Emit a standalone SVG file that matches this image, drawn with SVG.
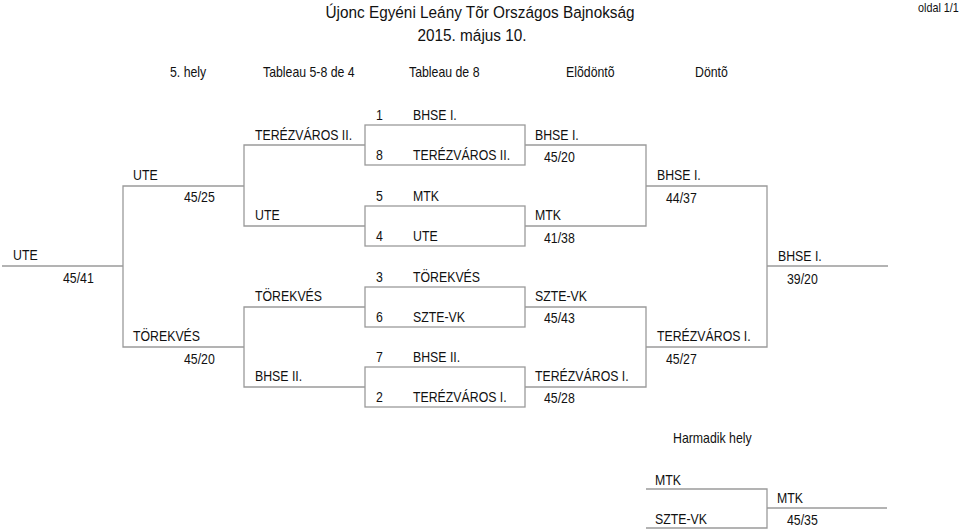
<svg xmlns="http://www.w3.org/2000/svg" width="960" height="530" viewBox="0 0 960 530">
<style>
text{font-family:"Liberation Sans",Arial,sans-serif;font-size:14px;fill:#111}
.t{font-size:16.5px}
.s{font-size:12px}
.c{text-anchor:middle}
#connectors line,#connectors rect,#connectors path{stroke:#9a9a9a;stroke-width:1.3;fill:none}
</style>
<rect width="960" height="530" fill="#fff"/>
<g id="header">
<text class="t c" transform="translate(480 18) scale(0.93 1)">Újonc Egyéni Leány Tõr Országos Bajnokság</text>
<text class="t c" transform="translate(472 41) scale(0.93 1)">2015. május 10.</text>
<text class="s" transform="translate(918 12) scale(0.9 1)">oldal 1/1</text>
<text transform="translate(170 77) scale(0.88 1)">5. hely</text>
<text transform="translate(263 77) scale(0.88 1)">Tableau 5-8 de 4</text>
<text transform="translate(409 77) scale(0.88 1)">Tableau de 8</text>
<text transform="translate(566 77) scale(0.88 1)">Elõdöntõ</text>
<text transform="translate(695 77) scale(0.88 1)">Döntõ</text>
</g>
<g id="connectors">
<rect x="365" y="125" width="160" height="40"/>
<rect x="365" y="206" width="160" height="40"/>
<rect x="365" y="287" width="160" height="40"/>
<rect x="365" y="367" width="160" height="40"/>
<path d="M525 145H646V226H525"/>
<path d="M525 307H646V387H525"/>
<path d="M646 186H767V347H646"/>
<path d="M767 266H888"/>
<path d="M365 145H244V226H365"/>
<path d="M365 307H244V387H365"/>
<path d="M244 186H123V347H244"/>
<path d="M123 266H2"/>
<path d="M646 489H767V528H646"/>
<path d="M767 508H887"/>
</g>
<g id="seed1"><text transform="translate(376 120) scale(0.88 1)">1</text><text transform="translate(413 120) scale(0.88 1)">BHSE I.</text></g>
<g id="seed8"><text transform="translate(376 160) scale(0.88 1)">8</text><text transform="translate(413 160) scale(0.88 1)">TERÉZVÁROS II.</text></g>
<g id="seed5"><text transform="translate(376 201) scale(0.88 1)">5</text><text transform="translate(413 201) scale(0.88 1)">MTK</text></g>
<g id="seed4"><text transform="translate(376 241) scale(0.88 1)">4</text><text transform="translate(413 241) scale(0.88 1)">UTE</text></g>
<g id="seed3"><text transform="translate(376 282) scale(0.88 1)">3</text><text transform="translate(413 282) scale(0.88 1)">TÖREKVÉS</text></g>
<g id="seed6"><text transform="translate(376 322) scale(0.88 1)">6</text><text transform="translate(413 322) scale(0.88 1)">SZTE-VK</text></g>
<g id="seed7"><text transform="translate(376 362) scale(0.88 1)">7</text><text transform="translate(413 362) scale(0.88 1)">BHSE II.</text></g>
<g id="seed2"><text transform="translate(376 402) scale(0.88 1)">2</text><text transform="translate(413 402) scale(0.88 1)">TERÉZVÁROS I.</text></g>
<g id="qf1"><text transform="translate(535 140) scale(0.88 1)">BHSE I.</text><text transform="translate(544 162) scale(0.88 1)">45/20</text></g>
<g id="qf2"><text transform="translate(535 220) scale(0.88 1)">MTK</text><text transform="translate(544 243) scale(0.88 1)">41/38</text></g>
<g id="qf3"><text transform="translate(535 301) scale(0.88 1)">SZTE-VK</text><text transform="translate(544 323) scale(0.88 1)">45/43</text></g>
<g id="qf4"><text transform="translate(535 381) scale(0.88 1)">TERÉZVÁROS I.</text><text transform="translate(544 403) scale(0.88 1)">45/28</text></g>
<g id="sf1"><text transform="translate(657 180) scale(0.88 1)">BHSE I.</text><text transform="translate(666 203) scale(0.88 1)">44/37</text></g>
<g id="sf2"><text transform="translate(657 341) scale(0.88 1)">TERÉZVÁROS I.</text><text transform="translate(666 364) scale(0.88 1)">45/27</text></g>
<g id="final"><text transform="translate(778 261) scale(0.88 1)">BHSE I.</text><text transform="translate(787 284) scale(0.88 1)">39/20</text></g>
<g id="cl1"><text transform="translate(255 140) scale(0.88 1)">TERÉZVÁROS II.</text></g>
<g id="cl2"><text transform="translate(255 220) scale(0.88 1)">UTE</text></g>
<g id="cl3"><text transform="translate(255 301) scale(0.88 1)">TÖREKVÉS</text></g>
<g id="cl4"><text transform="translate(255 381) scale(0.88 1)">BHSE II.</text></g>
<g id="cs1"><text transform="translate(133 180) scale(0.88 1)">UTE</text><text transform="translate(184 202) scale(0.88 1)">45/25</text></g>
<g id="cs2"><text transform="translate(133 341) scale(0.88 1)">TÖREKVÉS</text><text transform="translate(184 364) scale(0.88 1)">45/20</text></g>
<g id="fifth"><text transform="translate(13 260) scale(0.88 1)">UTE</text><text transform="translate(63 283) scale(0.88 1)">45/41</text></g>
<g id="third-title"><text transform="translate(673 443) scale(0.88 1)">Harmadik hely</text></g>
<g id="third1"><text transform="translate(655 485) scale(0.88 1)">MTK</text></g>
<g id="third2"><text transform="translate(655 524) scale(0.88 1)">SZTE-VK</text></g>
<g id="third"><text transform="translate(777 503) scale(0.88 1)">MTK</text><text transform="translate(787 525) scale(0.88 1)">45/35</text></g>
</svg>
